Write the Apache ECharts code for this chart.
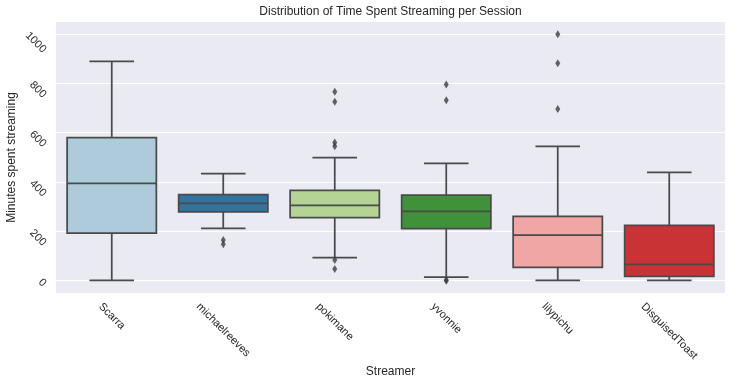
<!DOCTYPE html>
<html>
<head>
<meta charset="utf-8">
<script src="https://cdn.jsdelivr.net/npm/echarts@6/dist/echarts.min.js"></script>
<style>html,body{margin:0;padding:0;background:#fff}#c{width:737px;height:384px}</style>
</head>
<body>
<div id="c"></div>
<script>
// ---- data ----
const streamers   = ['Scarra', 'michaelreeves', 'pokimane', 'yvonnie', 'lilypichu', 'DisguisedToast'];
const whiskerLow  = [1, 212, 93, 14, 1, 1];
const q1          = [193, 279, 255, 211, 54, 17];
const median      = [394, 313, 305, 281, 184, 66];
const q3          = [580, 349, 366, 347, 260, 224];
const whiskerHigh = [888, 434, 499, 475, 544, 439];
const outliers    = [
  [],
  [165, 148],
  [765, 725, 560, 545, 84, 47],
  [795, 731, 3, 0],
  [998, 881, 695],
  []
];
const yTickLabels = ['0', '200', '400', '600', '800', '1000'];
const yMin = -50, yMax = 1048;

// ---- styling ----
const palette = ['#aecbdb', '#3274a1', '#b3d495', '#40923a', '#efa6a5', '#ca3335'];
const EDGE = '#4a4a4a';
const LW = 1.75;
const FONT = '"Liberation Sans", Arial, sans-serif';
const TXT = '#262626';
const TICK_FS = 11;
const H = 11;

const ctx = document.createElement('canvas').getContext('2d');
ctx.font = TICK_FS + 'px "Liberation Sans"';
const tw = s => ctx.measureText(String(s)).width;

// x labels: rotated -45, bbox top at anchor, centred on tick
const xRich = {};
streamers.forEach((s, i) => {
  const w = tw(s), h = H;
  const pt = Math.max(0, (w - h) / 4), pl = (w + h) / 2;
  xRich['x' + i] = {fontSize: TICK_FS, fontFamily: FONT, color: TXT, padding: [pt, 0, 0, pl]};
});
// y labels: rotated -45, bbox top at tick, right edge fixed
const C = 30, D = -2.8;
const yRich = {};
yTickLabels.forEach(s => {
  const w = tw(s);
  const pr = (C - w) / 2 - D, pt = (C + w) / 2 + D;
  yRich['y' + s] = {fontSize: TICK_FS, fontFamily: FONT, color: TXT, padding: [pt, pr, 0, 0]};
});

const boxData = streamers.map((s, i) => [i, whiskerLow[i], q1[i], median[i], q3[i], whiskerHigh[i]]);
const outlierData = [];
outliers.forEach((arr, i) => arr.forEach(v => outlierData.push([i, v])));

const chart = echarts.init(document.getElementById('c'), null, {renderer: 'canvas'});
chart.setOption({
  animation: false,
  backgroundColor: '#ffffff',
  textStyle: {fontFamily: FONT, color: TXT},
  title: {
    text: 'Distribution of Time Spent Streaming per Session',
    left: 385.5, top: 1, textAlign: 'center',
    textStyle: {fontSize: 12, fontWeight: 'normal', color: TXT, fontFamily: FONT}
  },
  grid: {left: 56, right: 12, top: 22, bottom: 91, show: true, backgroundColor: '#eaeaf2', borderWidth: 0,
         containLabel: false, outerBoundsMode: 'none'},
  xAxis: {
    type: 'category',
    data: streamers,
    boundaryGap: true,
    name: 'Streamer', nameLocation: 'middle', nameGap: 73, nameMoveOverlap: false,
    nameTextStyle: {fontSize: 12, color: TXT, fontFamily: FONT, verticalAlign: 'top'},
    axisLine: {show: false}, axisTick: {show: false}, splitLine: {show: false},
    axisLabel: {
      interval: 0, rotate: -45, margin: 8, align: 'center', verticalAlign: 'top',
      formatter: v => '{x' + streamers.indexOf(v) + '|' + v + '}',
      rich: xRich
    }
  },
  yAxis: {
    type: 'value', min: yMin, max: yMax, splitNumber: 5,
    name: 'Minutes spent streaming', nameLocation: 'middle', nameGap: 38, nameMoveOverlap: false,
    nameTextStyle: {fontSize: 12, color: TXT, fontFamily: FONT},
    axisLine: {show: false}, axisTick: {show: false},
    splitLine: {show: true, showMinLine: false, showMaxLine: false, lineStyle: {color: '#ffffff', width: 1.2}},
    axisLabel: {
      showMinLabel: false, showMaxLabel: false,
      rotate: -45, margin: -13.5, align: 'right', verticalAlign: 'top',
      formatter: v => (yRich['y' + v] ? '{y' + v + '|' + v + '}' : ''),
      rich: yRich
    }
  },
  series: [
    {
      type: 'custom',
      data: boxData,
      encode: {x: 0, y: [1, 2, 3, 4, 5]},
      renderItem: (params, api) => {
        const i = api.value(0);
        const lo = api.coord([i, api.value(1)]);
        const a = api.coord([i, api.value(2)]);
        const m = api.coord([i, api.value(3)]);
        const b = api.coord([i, api.value(4)]);
        const hi = api.coord([i, api.value(5)]);
        const band = api.size([1, 0])[0];
        const bw = band * 0.8, cw = band * 0.4;
        const cx = lo[0];
        const ls = {stroke: EDGE, lineWidth: LW, fill: null};
        return {
          type: 'group',
          children: [
            {type: 'line', shape: {x1: cx, y1: hi[1], x2: cx, y2: b[1]}, style: ls},
            {type: 'line', shape: {x1: cx, y1: a[1], x2: cx, y2: lo[1]}, style: ls},
            {type: 'line', shape: {x1: cx - cw / 2, y1: hi[1], x2: cx + cw / 2, y2: hi[1]}, style: ls},
            {type: 'line', shape: {x1: cx - cw / 2, y1: lo[1], x2: cx + cw / 2, y2: lo[1]}, style: ls},
            {type: 'rect', shape: {x: cx - bw / 2, y: b[1], width: bw, height: a[1] - b[1]},
             style: {fill: palette[params.dataIndex], stroke: EDGE, lineWidth: LW}},
            {type: 'line', shape: {x1: cx - bw / 2, y1: m[1], x2: cx + bw / 2, y2: m[1]}, style: ls}
          ]
        };
      },
      z: 2
    },
    {
      type: 'scatter',
      data: outlierData,
      symbol: 'diamond',
      symbolSize: [5, 8],
      itemStyle: {color: '#3d3d3d'},
      z: 3
    }
  ]
});
</script>
</body>
</html>
